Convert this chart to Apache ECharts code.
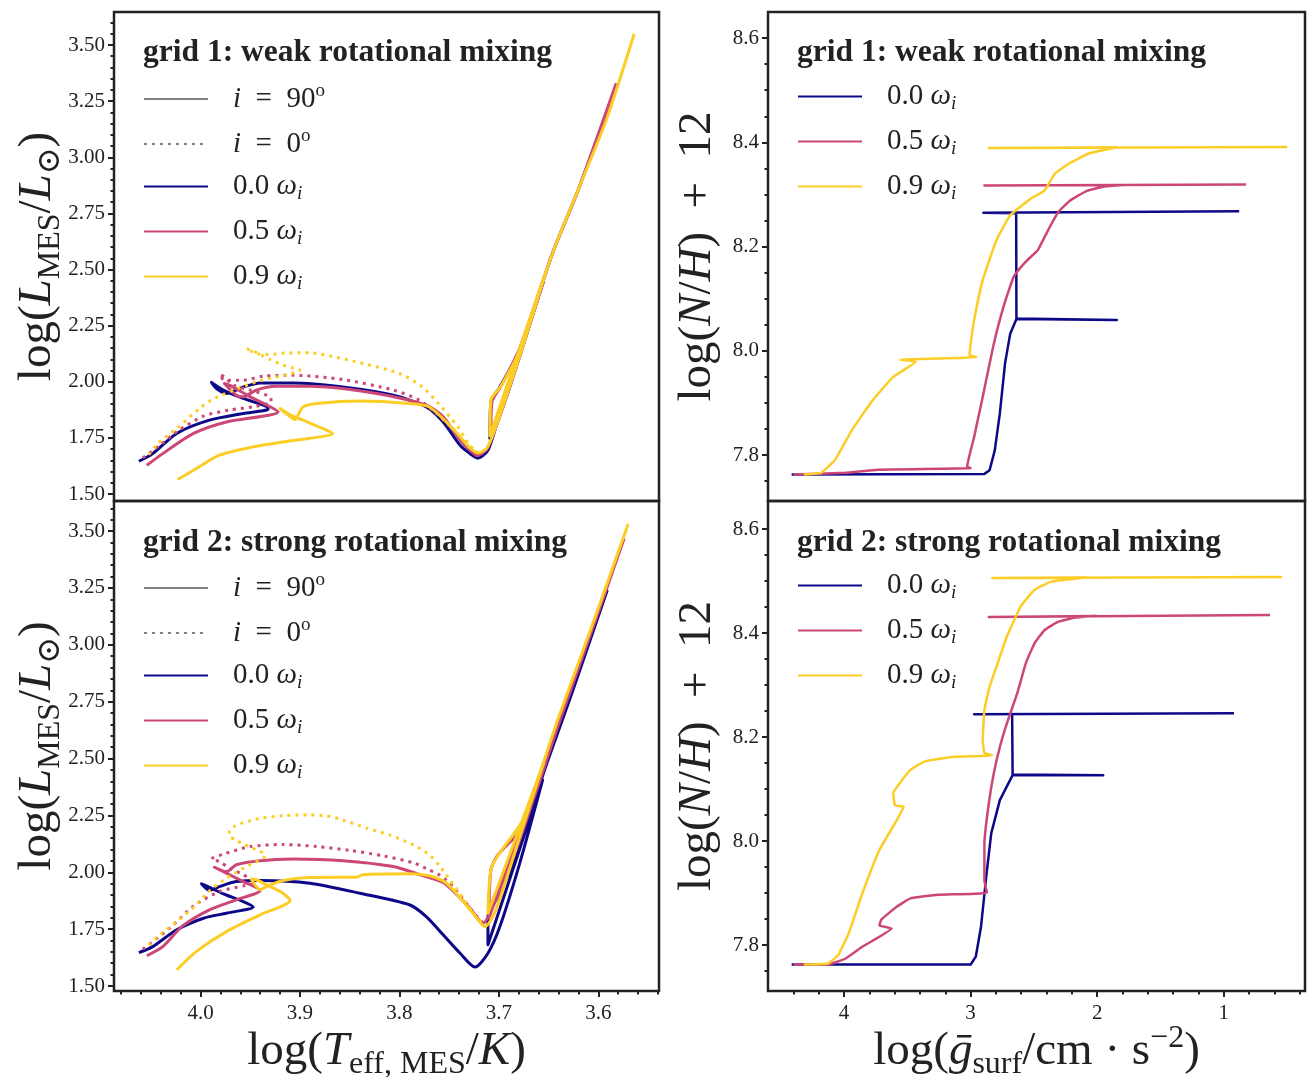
<!DOCTYPE html>
<html>
<head>
<meta charset="utf-8">
<script src="https://cdn.jsdelivr.net/npm/echarts@6/dist/echarts.min.js"></script>
<style>
  html, body { margin: 0; padding: 0; background: #fff; }
  #chart { width: 1308px; height: 1077px; }
</style>
</head>
<body>
<div id="chart"></div>
<script>
// ---------- Evolutionary tracks in the HR diagram: [log Teff, log L] ----------
// grid 1 (weak rotational mixing), equator-on (i = 90 deg)
const hrG1Omega00 = [[4.062,1.646],[4.048,1.680],[4.024,1.770],[3.991,1.829],[3.957,1.859],[3.932,1.878],[3.934,1.891],[3.957,1.926],[3.977,1.963],[3.989,1.997],[3.984,1.970],[3.974,1.948],[3.957,1.977],[3.940,1.995],[3.907,1.995],[3.857,1.977],[3.806,1.940],[3.773,1.888],[3.756,1.821],[3.739,1.717],[3.729,1.680],[3.721,1.660],[3.711,1.695],[3.703,1.799],[3.689,1.977],[3.676,2.156],[3.655,2.450],[3.709,1.747],[3.708,1.911],[3.699,1.977],[3.679,2.141],[3.646,2.572],[3.619,2.869],[3.582,3.320]];
const hrG1Omega05 = [[4.054,1.628],[4.038,1.680],[4.007,1.770],[3.974,1.821],[3.922,1.866],[3.950,1.933],[3.971,1.985],[3.976,1.992],[3.964,1.940],[3.957,1.933],[3.944,1.963],[3.924,1.980],[3.890,1.980],[3.823,1.948],[3.773,1.896],[3.756,1.844],[3.739,1.740],[3.729,1.695],[3.722,1.672],[3.712,1.700],[3.703,1.800],[3.689,1.980],[3.676,2.160],[3.655,2.450],[3.708,1.760],[3.707,1.910],[3.698,1.980],[3.679,2.150],[3.646,2.575],[3.619,2.870],[3.582,3.330]];
const hrG1Omega09 = [[4.023,1.565],[4.007,1.606],[3.981,1.673],[3.947,1.710],[3.917,1.732],[3.867,1.770],[3.877,1.792],[3.897,1.829],[3.909,1.851],[3.920,1.881],[3.914,1.859],[3.905,1.832],[3.902,1.851],[3.897,1.888],[3.883,1.903],[3.840,1.914],[3.790,1.903],[3.770,1.888],[3.746,1.790],[3.730,1.710],[3.721,1.683],[3.712,1.705],[3.703,1.800],[3.689,1.980],[3.676,2.156],[3.652,2.500],[3.709,1.760],[3.708,1.920],[3.698,1.980],[3.679,2.140],[3.646,2.572],[3.619,2.869],[3.592,3.166],[3.564,3.549]];
// grid 1, pole-on (i = 0 deg)
const hrG1Omega05Pole = [[4.058,1.661],[4.041,1.717],[4.024,1.777],[3.997,1.847],[3.971,1.874],[3.944,1.891],[3.929,1.911],[3.930,1.933],[3.950,1.963],[3.967,1.985],[3.976,2.022],[3.981,2.032],[3.976,2.007],[3.957,2.007],[3.937,2.025],[3.907,2.029],[3.857,2.010],[3.806,1.963],[3.780,1.918],[3.763,1.859],[3.746,1.784],[3.730,1.700],[3.722,1.672]];
const hrG1Omega09Pole = [[4.052,1.675],[4.043,1.725],[4.024,1.792],[3.991,1.914],[3.944,2.000],[3.900,2.052],[3.909,2.064],[3.917,2.074],[3.930,2.099],[3.939,2.119],[3.947,2.138],[3.954,2.148],[3.944,2.126],[3.930,2.122],[3.915,2.128],[3.889,2.129],[3.863,2.108],[3.847,2.093],[3.800,2.037],[3.777,1.977],[3.760,1.900],[3.749,1.841],[3.741,1.799],[3.730,1.720],[3.721,1.685]];

// grid 2 (strong rotational mixing), equator-on
const hrG2Omega00 = [[4.062,1.647],[4.048,1.673],[4.024,1.747],[3.997,1.798],[3.974,1.820],[3.947,1.847],[3.957,1.871],[3.977,1.905],[3.994,1.940],[3.999,1.949],[3.991,1.920],[3.981,1.937],[3.964,1.959],[3.940,1.964],[3.890,1.952],[3.840,1.908],[3.790,1.857],[3.773,1.805],[3.756,1.725],[3.739,1.644],[3.724,1.583],[3.711,1.644],[3.699,1.761],[3.679,2.040],[3.656,2.406],[3.711,1.681],[3.711,1.805],[3.699,1.908],[3.679,2.113],[3.654,2.450],[3.626,2.794],[3.591,3.241]];
const hrG2Omega05 = [[4.054,1.633],[4.038,1.673],[4.018,1.764],[3.991,1.835],[3.964,1.879],[3.940,1.920],[3.957,1.959],[3.974,1.996],[3.986,2.022],[3.974,2.003],[3.964,2.033],[3.940,2.051],[3.907,2.058],[3.857,2.051],[3.806,2.025],[3.780,1.990],[3.756,1.955],[3.742,1.900],[3.729,1.842],[3.716,1.776],[3.703,1.879],[3.679,2.142],[3.655,2.460],[3.710,1.800],[3.708,2.011],[3.701,2.076],[3.676,2.200],[3.640,2.650],[3.605,3.080],[3.574,3.468]];
const hrG2Omega09 = [[4.024,1.571],[4.004,1.652],[3.974,1.739],[3.940,1.813],[3.910,1.876],[3.917,1.908],[3.930,1.937],[3.944,1.967],[3.949,1.970],[3.940,1.923],[3.934,1.937],[3.917,1.964],[3.890,1.977],[3.843,1.978],[3.837,1.989],[3.790,1.993],[3.770,1.985],[3.756,1.962],[3.746,1.923],[3.726,1.820],[3.714,1.761],[3.703,1.835],[3.679,2.157],[3.655,2.480],[3.711,1.820],[3.708,2.011],[3.700,2.080],[3.676,2.230],[3.640,2.680],[3.605,3.100],[3.570,3.531]];
// grid 2, pole-on
const hrG2Omega05Pole = [[4.058,1.662],[4.031,1.754],[4.007,1.852],[3.981,1.915],[3.957,1.940],[3.945,1.952],[3.957,1.989],[3.971,2.018],[3.981,2.047],[3.989,2.058],[3.976,2.081],[3.950,2.113],[3.917,2.122],[3.883,2.113],[3.850,2.096],[3.816,2.072],[3.785,2.040],[3.770,2.010],[3.760,1.989],[3.746,1.937],[3.729,1.842],[3.716,1.776]];
const hrG2Omega09Pole = [[4.052,1.680],[4.043,1.717],[4.024,1.783],[4.007,1.847],[3.991,1.918],[3.974,1.974],[3.954,2.025],[3.937,2.062],[3.935,2.079],[3.944,2.098],[3.951,2.113],[3.959,2.128],[3.965,2.145],[3.971,2.157],[3.971,2.179],[3.965,2.204],[3.957,2.218],[3.940,2.237],[3.917,2.249],[3.890,2.252],[3.873,2.248],[3.857,2.230],[3.833,2.194],[3.810,2.164],[3.786,2.120],[3.771,2.081],[3.760,2.030],[3.750,1.970],[3.735,1.880],[3.726,1.820],[3.714,1.761]];

// ---------- Surface nitrogen vs. surface gravity: [log g, log(N/H)+12] ----------
const nhG1Omega00 = [[4.413,7.763],[2.891,7.764],[2.850,7.771],[2.809,7.809],[2.769,7.880],[2.728,7.976],[2.687,8.033],[2.638,8.061],[1.845,8.059],[2.638,8.062],[2.640,8.264],[2.899,8.265],[0.879,8.268]];
const nhG1Omega05 = [[4.399,7.763],[3.991,7.766],[3.733,7.772],[2.999,7.775],[3.027,7.778],[2.972,7.835],[2.904,7.912],[2.822,8.008],[2.741,8.084],[2.660,8.142],[2.564,8.171],[2.470,8.193],[2.429,8.212],[2.374,8.238],[2.306,8.267],[2.211,8.289],[2.089,8.306],[1.953,8.315],[1.790,8.318],[2.891,8.317],[0.825,8.319]];
const nhG1Omega09 = [[4.317,7.763],[4.182,7.766],[4.073,7.790],[3.937,7.848],[3.774,7.905],[3.611,7.950],[3.434,7.979],[3.556,7.983],[2.953,7.988],[3.008,7.992],[2.999,8.014],[2.972,8.059],[2.904,8.136],[2.796,8.212],[2.687,8.260],[2.524,8.292],[2.415,8.308],[2.334,8.340],[2.225,8.359],[2.062,8.379],[1.845,8.390],[2.856,8.389],[0.499,8.391]];
const nhG2Omega00 = [[4.413,7.763],[2.999,7.763],[2.959,7.778],[2.918,7.835],[2.877,7.931],[2.837,8.015],[2.769,8.079],[2.668,8.127],[1.953,8.127],[2.668,8.128],[2.672,8.244],[2.972,8.244],[0.920,8.246]];
const nhG2Omega05 = [[4.399,7.763],[4.127,7.763],[3.991,7.774],[3.856,7.797],[3.624,7.832],[3.720,7.838],[3.706,7.849],[3.584,7.874],[3.475,7.890],[3.257,7.897],[2.871,7.901],[2.891,7.925],[2.891,7.996],[2.863,8.060],[2.822,8.124],[2.769,8.181],[2.714,8.226],[2.632,8.284],[2.564,8.342],[2.496,8.380],[2.415,8.406],[2.306,8.422],[2.171,8.430],[2.007,8.433],[2.856,8.431],[0.635,8.435]];
const nhG2Omega09 = [[4.317,7.763],[4.127,7.765],[4.046,7.781],[3.964,7.822],[3.856,7.899],[3.720,7.983],[3.584,8.040],[3.530,8.066],[3.597,8.069],[3.611,8.092],[3.570,8.108],[3.475,8.137],[3.366,8.153],[3.149,8.162],[2.828,8.165],[2.891,8.170],[2.904,8.194],[2.891,8.252],[2.850,8.297],[2.796,8.335],[2.714,8.393],[2.605,8.451],[2.496,8.483],[2.361,8.499],[2.089,8.507],[2.828,8.506],[0.540,8.508]];

// ---------- Tick labels ----------
const lumTicks  = [1.50, 1.75, 2.00, 2.25, 2.50, 2.75, 3.00, 3.25, 3.50];
const teffTicks = [4.0, 3.9, 3.8, 3.7, 3.6];
const nhTicks   = [7.8, 8.0, 8.2, 8.4, 8.6];
const gTicks    = [4, 3, 2, 1];

const titles = ['grid 1: weak rotational mixing', 'grid 2: strong rotational mixing'];

// ---------- styling ----------
const SERIF = "'Liberation Serif', 'DejaVu Serif', serif";
const INK = '#222';
const NAVY = '#0d0887', PINK = '#cc4778', GOLD = '#fccd25', GREY = '#808080';

function steps(a, b, s) {
  const out = [];
  for (let k = 0; a + k * s <= b + 1e-9; k++) out.push(+(a + k * s).toFixed(4));
  return out;
}

const nameRich = {
  r: { fontFamily: SERIF, fontSize: 47, lineHeight: 58, verticalAlign: 'middle', color: INK },
  i: { fontFamily: SERIF, fontSize: 47, lineHeight: 58, verticalAlign: 'middle', fontStyle: 'italic', color: INK },
  s: { fontFamily: SERIF, fontSize: 32, lineHeight: 32, verticalAlign: 'bottom', color: INK },
  p: { fontFamily: SERIF, fontSize: 32, lineHeight: 32, verticalAlign: 'top', color: INK }
};

function axisPair(dim, grid, min, max, inverse, majors, minors, fmt, opts) {
  const o = opts || {};
  const base = { type: 'value', gridIndex: grid, min, max, inverse: !!inverse,
                 axisLine: { show: false }, splitLine: { show: false } };
  if (o.hidden) {
    return [Object.assign({}, base, { show: false }), Object.assign({}, base, { show: false })];
  }
  const main = Object.assign({}, base, {
    position: dim === 'x' ? 'bottom' : 'left',
    axisTick: { show: true, inside: false, customValues: majors, length: 6, lineStyle: { color: INK, width: 2 } },
    axisLabel: { show: true, customValues: majors, formatter: fmt, color: INK, fontFamily: SERIF,
                 fontSize: 21, margin: dim === 'x' ? 12 : 9 }
  });
  if (o.name) {
    Object.assign(main, { name: o.name, nameLocation: 'middle', nameGap: o.nameGap,
                          nameMoveOverlap: false, nameTextStyle: { rich: nameRich } });
  }
  const minor = Object.assign({}, base, {
    position: dim === 'x' ? 'bottom' : 'left',
    axisTick: { show: true, inside: false, customValues: minors, length: 3.5, lineStyle: { color: INK, width: 2 } },
    axisLabel: { show: false }
  });
  return [main, minor];
}

const f1 = v => v.toFixed(1), f2 = v => v.toFixed(2), f0 = v => v.toFixed(0);
const lumName  = '{r|log(}{i|L}{s|MES}{r|/}{i|L}{s|\u2299}{r|)}';
const nhName   = '{r|log(}{i|N}{r|/}{i|H}{r|)\u2002+\u200212}';
const teffName = '{r|log(}{i|T}{s|eff, MES}{r|/}{i|K}{r|)}';
const gName    = '{r|log(}{i|\u1E21}{s|surf}{r|/cm\u2005\u00B7\u2005s}{p|\u22122}{r|)}';

const teffMin = 3.539, teffMax = 4.087, gMin = 0.359, gMax = 4.6;
const teffMinor = steps(3.54, 4.08, 0.02), gMinor = steps(0.4, 4.4, 0.2);

const xAxes = [].concat(
  axisPair('x', 0, teffMin, teffMax, true, teffTicks, teffMinor, f1, { hidden: true }),
  axisPair('x', 1, teffMin, teffMax, true, teffTicks, teffMinor, f1, { name: teffName, nameGap: 32 }),
  axisPair('x', 2, gMin, gMax, true, gTicks, gMinor, f0, { hidden: true }),
  axisPair('x', 3, gMin, gMax, true, gTicks, gMinor, f0, { name: gName, nameGap: 32 })
);
const yAxes = [].concat(
  axisPair('y', 0, 1.469, 3.647, false, lumTicks, steps(1.5, 3.6, 0.05), f2, { name: lumName, nameGap: 47 }),
  axisPair('y', 1, 1.478, 3.632, false, lumTicks, steps(1.5, 3.6, 0.05), f2, { name: lumName, nameGap: 47 }),
  axisPair('y', 2, 7.712, 8.650, false, nhTicks, steps(7.75, 8.6, 0.05), f1, { name: nhName, nameGap: 41 }),
  axisPair('y', 3, 7.712, 8.654, false, nhTicks, steps(7.75, 8.6, 0.05), f1, { name: nhName, nameGap: 41 })
);

// fixed panel boxes; the axis names may reach the page edge without shrinking the panels
const grids = [
  { left: 114, top: 12,  width: 545, height: 489 },
  { left: 114, top: 501, width: 545, height: 490 },
  { left: 768, top: 12,  width: 537, height: 489 },
  { left: 768, top: 501, width: 537, height: 490 }
].map(g => Object.assign(g, { show: true, borderColor: INK, borderWidth: 2.5, backgroundColor: 'transparent',
                              containLabel: false, outerBoundsMode: 'none' }));

function track(name, data, color, grid, pole, width, smooth) {
  return {
    type: 'line', name, data, xAxisIndex: 2 * grid, yAxisIndex: 2 * grid,
    symbol: 'none', smooth: smooth, animation: false, silent: true,
    lineStyle: { color, width, type: pole ? [3, 5] : 'solid', cap: 'butt', join: 'round' },
    itemStyle: { color }
  };
}

const S = 0.25, SN = 0.12;
const series = [
  // legend samples for the viewing inclination
  track('i90', [], GREY, 0, false, 2.5, false),
  track('i0', [], GREY, 0, true, 2.5, false),
  // grid 1 HR diagram
  track('w00', hrG1Omega00, NAVY, 0, false, 3, S),
  track('w05', hrG1Omega05, PINK, 0, false, 3, S),
  track('w05 pole', hrG1Omega05Pole, PINK, 0, true, 3, S),
  track('w09', hrG1Omega09, GOLD, 0, false, 3, S),
  track('w09 pole', hrG1Omega09Pole, GOLD, 0, true, 3, S),
  // grid 2 HR diagram
  track('w00', hrG2Omega00, NAVY, 1, false, 3, S),
  track('w05', hrG2Omega05, PINK, 1, false, 3, S),
  track('w05 pole', hrG2Omega05Pole, PINK, 1, true, 3, S),
  track('w09', hrG2Omega09, GOLD, 1, false, 3, S),
  track('w09 pole', hrG2Omega09Pole, GOLD, 1, true, 3, S),
  // nitrogen abundance
  track('w00', nhG1Omega00, NAVY, 2, false, 2.5, false),
  track('w05', nhG1Omega05, PINK, 2, false, 2.5, SN),
  track('w09', nhG1Omega09, GOLD, 2, false, 2.5, SN),
  track('w00', nhG2Omega00, NAVY, 3, false, 2.5, false),
  track('w05', nhG2Omega05, PINK, 3, false, 2.5, SN),
  track('w09', nhG2Omega09, GOLD, 3, false, 2.5, SN)
];

const legendText = {
  i90: '{i|i}{r|\u2002=\u200290}{p|o}',
  i0:  '{i|i}{r|\u2002=\u20020}{p|o}',
  w00: '{r|0.0 }{i|\u03C9}{si|i}',
  w05: '{r|0.5 }{i|\u03C9}{si|i}',
  w09: '{r|0.9 }{i|\u03C9}{si|i}'
};
const legendRich = {
  r:  { fontFamily: SERIF, fontSize: 29, lineHeight: 34, verticalAlign: 'middle', color: INK },
  i:  { fontFamily: SERIF, fontSize: 29, lineHeight: 34, verticalAlign: 'middle', fontStyle: 'italic', color: INK },
  si: { fontFamily: SERIF, fontSize: 19, lineHeight: 19, verticalAlign: 'bottom', fontStyle: 'italic', color: INK },
  p:  { fontFamily: SERIF, fontSize: 19, lineHeight: 19, verticalAlign: 'top', color: INK }
};
function legendAt(left, top, names) {
  return {
    left, top, orient: 'vertical', data: names, selectedMode: false,
    itemWidth: 64, itemHeight: 14, itemGap: 13.5, padding: 0,
    itemStyle: { opacity: 0 },
    formatter: n => legendText[n],
    textStyle: { fontFamily: SERIF, fontSize: 29, color: INK, padding: [0, 0, 0, 20], rich: legendRich }
  };
}

const titleAt = (left, top, text) => ({
  left, top, text, padding: 0,
  textStyle: { fontFamily: SERIF, fontSize: 31.5, fontWeight: 'bold', color: INK }
});

const chart = echarts.init(document.getElementById('chart'), null, { renderer: 'canvas' });
chart.setOption({
  backgroundColor: '#fff',
  animation: false,
  title: [titleAt(143, 37, titles[0]), titleAt(143, 527, titles[1]),
          titleAt(797, 37, titles[0]), titleAt(797, 527, titles[1])],
  legend: [
    legendAt(143, 82,  ['i90', 'i0', 'w00', 'w05', 'w09']),
    legendAt(143, 571, ['i90', 'i0', 'w00', 'w05', 'w09']),
    legendAt(797, 82,  ['w00', 'w05', 'w09']),
    legendAt(797, 571, ['w00', 'w05', 'w09'])
  ],
  grid: grids,
  xAxis: xAxes,
  yAxis: yAxes,
  series
});
</script>
</body>
</html>
